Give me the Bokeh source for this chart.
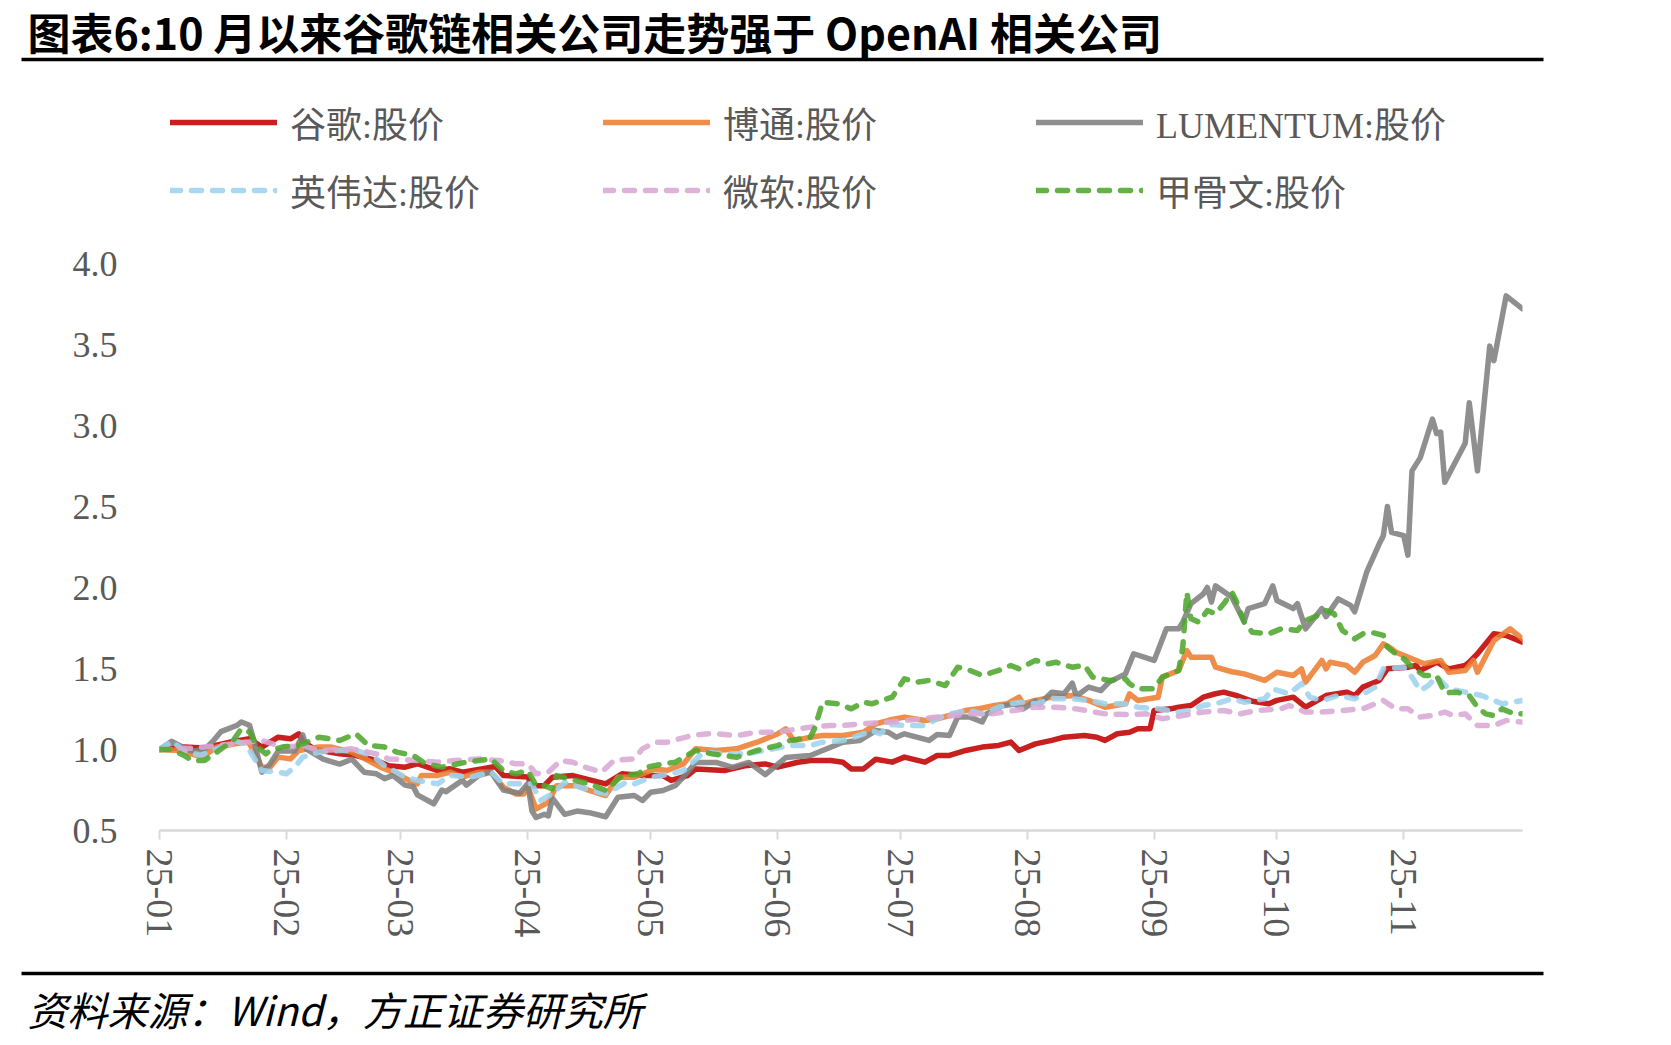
import pandas as pd
from bokeh.plotting import figure
from bokeh.models import (ColumnDataSource, Range1d, FixedTicker, DatetimeTickFormatter,
                          PrintfTickFormatter, Legend, LegendItem)
from bokeh.layouts import column
from bokeh.core.properties import value
from bokeh.embed import file_html
from bokeh.resources import INLINE

YEAR = "2025"
TITLE = "图表6:10 月以来谷歌链相关公司走势强于 OpenAI 相关公司"
SOURCE = "资料来源：Wind，方正证券研究所"

month_ticks = ["01-01", "02-01", "03-01", "04-01", "05-01", "06-01",
               "07-01", "08-01", "09-01", "10-01", "11-01"]
y_ticks = [0.5, 1.0, 1.5, 2.0, 2.5, 3.0, 3.5, 4.0]

names = ["谷歌:股价", "博通:股价", "LUMENTUM:股价", "英伟达:股价", "微软:股价", "甲骨文:股价"]

goog = [("01-01",1.00),("01-07",1.015),("01-12",1.01),("01-19",1.05),("01-23",1.066),("01-26",1.015),
        ("01-30",1.076),("02-02",1.066),("02-04",1.097),("02-05",1.05),("02-08",1.00),("02-14",0.973),
        ("02-18",0.963),("02-23",0.932),("02-26",0.90),("03-02",0.891),("03-05",0.912),("03-10",0.87),
        ("03-13",0.881),("03-16",0.86),("03-21",0.881),("03-24",0.895),("03-26",0.84),("04-01",0.83),
        ("04-02",0.777),("04-05",0.777),("04-07",0.829),("04-12",0.839),("04-20",0.788),("04-24",0.85),
        ("04-29",0.839),("05-04",0.839),("05-06",0.809),("05-10",0.839),("05-12",0.88),("05-19",0.87),
        ("05-24",0.90),("05-29",0.911),("06-01",0.891),("06-06",0.921),("06-09",0.932),("06-14",0.932),
        ("06-17",0.921),("06-19",0.88),("06-22",0.88),("06-25",0.94),("06-29",0.922),("07-02",0.953),
        ("07-07",0.922),("07-10",0.963),("07-13",0.963),("07-17",0.994),("07-21",1.015),("07-25",1.025),
        ("07-28",1.046),("07-30",0.994),("08-03",1.035),("08-07",1.056),("08-10",1.076),("08-15",1.087),
        ("08-18",1.076),("08-20",1.056),("08-23",1.097),("08-26",1.107),("08-28",1.128),("08-31",1.128),
        ("09-01",1.241),("09-05",1.251),("09-07",1.261),("09-10",1.272),("09-13",1.323),("09-16",1.344),
        ("09-18",1.354),("09-21",1.334),("09-25",1.298),("09-29",1.282),("10-01",1.303),("10-05",1.323),
        ("10-08",1.261),("10-13",1.333),("10-18",1.354),("10-20",1.333),("10-22",1.385),("10-26",1.426),
        ("10-28",1.498),("11-02",1.508),("11-04",1.519),("11-05",1.488),("11-09",1.539),("11-12",1.498),
        ("11-16",1.519),("11-17",1.539),("11-19",1.591),("11-23",1.714),("11-26",1.704),("11-30",1.663)]

avgo = [("01-01",1.00),("01-06",0.994),("01-10",0.963),("01-12",0.963),("01-15",1.015),("01-22",1.046),
        ("01-23",1.035),("01-26",0.891),("01-28",0.891),("01-30",0.953),("02-02",0.942),("02-04",0.994),
        ("02-09",1.015),("02-12",1.015),("02-17",0.984),("02-21",0.932),("02-24",0.891),("02-28",0.85),
        ("03-03",0.809),("03-05",0.788),("03-06",0.84),("03-10",0.84),("03-13",0.86),("03-16",0.83),
        ("03-20",0.86),("03-23",0.86),("03-26",0.768),("03-29",0.726),("03-31",0.726),("04-01",0.767),
        ("04-03",0.633),("04-06",0.674),("04-08",0.777),("04-13",0.777),("04-16",0.747),("04-20",0.716),
        ("04-23",0.829),("04-27",0.829),("05-02",0.88),("05-05",0.87),("05-09",0.911),("05-12",1.004),
        ("05-17",0.994),("05-22",1.004),("05-27",1.045),("06-01",1.096),("06-03",1.127),("06-05",1.055),
        ("06-09",1.076),("06-12",1.086),("06-17",1.086),("06-22",1.107),("06-25",1.158),("06-29",1.185),
        ("07-02",1.20),("07-07",1.179),("07-10",1.19),("07-13",1.21),("07-17",1.241),("07-20",1.251),
        ("07-22",1.261),("07-24",1.272),("07-27",1.282),("07-30",1.323),("07-31",1.282),("08-03",1.303),
        ("08-07",1.323),("08-12",1.334),("08-16",1.303),("08-20",1.261),("08-25",1.282),("08-26",1.344),
        ("08-28",1.303),("09-02",1.323),("09-03",1.447),("09-07",1.488),("09-09",1.611),("09-10",1.57),
        ("09-13",1.57),("09-15",1.57),("09-16",1.508),("09-20",1.48),("09-23",1.467),("09-28",1.426),
        ("10-01",1.477),("10-05",1.457),("10-07",1.498),("10-08",1.416),("10-12",1.55),("10-13",1.498),
        ("10-14",1.539),("10-18",1.519),("10-20",1.477),("10-22",1.539),("10-25",1.58),("10-27",1.652),
        ("10-29",1.622),("10-30",1.601),("11-03",1.56),("11-06",1.529),("11-10",1.55),("11-12",1.477),
        ("11-16",1.488),("11-18",1.55),("11-19",1.477),("11-23",1.673),("11-27",1.745),("11-30",1.683)]

lite = [("01-01",1.00),("01-04",1.05),("01-07",1.01),("01-09",0.99),("01-12",1.00),("01-14",1.05),
        ("01-16",1.11),("01-20",1.15),("01-21",1.17),("01-23",1.15),("01-24",1.06),("01-26",0.86),
        ("01-28",0.91),("01-30",0.99),("02-03",0.99),("02-05",1.09),("02-06",1.00),("02-10",0.94),
        ("02-14",0.91),("02-17",0.94),("02-20",0.86),("02-23",0.85),("02-25",0.82),("02-27",0.84),
        ("03-02",0.78),("03-04",0.77),("03-05",0.72),("03-09",0.665),("03-11",0.75),("03-12",0.74),
        ("03-16",0.81),("03-17",0.78),("03-20",0.84),("03-23",0.86),("03-26",0.75),("03-30",0.73),
        ("04-01",0.79),("04-02",0.62),("04-03",0.58),("04-05",0.60),("04-06",0.59),("04-07",0.70),
        ("04-10",0.60),("04-13",0.62),("04-16",0.61),("04-20",0.585),("04-23",0.705),("04-27",0.716),
        ("04-29",0.685),("05-01",0.736),("05-04",0.747),("05-07",0.777),("05-09",0.83),("05-12",0.92),
        ("05-17",0.92),("05-21",0.89),("05-25",0.92),("05-29",0.845),("06-03",0.95),("06-09",0.963),
        ("06-12",0.994),("06-17",1.045),("06-21",1.055),("06-25",1.117),("06-28",1.107),("06-30",1.076),
        ("07-02",1.097),("07-08",1.056),("07-10",1.093),("07-13",1.087),("07-15",1.20),("07-18",1.20),
        ("07-21",1.17),("07-22",1.22),("07-26",1.27),("07-29",1.28),("07-31",1.25),("08-03",1.30),
        ("08-04",1.28),("08-07",1.354),("08-10",1.344),("08-12",1.41),("08-13",1.33),("08-16",1.385),
        ("08-19",1.364),("08-21",1.416),("08-25",1.467),("08-27",1.591),("09-01",1.55),("09-04",1.745),
        ("09-07",1.745),("09-08",1.786),("09-10",1.90),("09-13",1.96),("09-14",2.00),("09-15",1.91),
        ("09-16",2.01),("09-20",1.94),("09-23",1.79),("09-24",1.87),("09-28",1.90),("09-30",2.01),
        ("10-01",1.92),("10-05",1.87),("10-06",1.90),("10-08",1.745),("10-12",1.87),("10-13",1.82),
        ("10-16",1.93),("10-19",1.89),("10-20",1.85),("10-23",2.10),("10-26",2.27),("10-27",2.32),
        ("10-28",2.50),("10-29",2.34),("11-01",2.32),("11-02",2.20),("11-03",2.72),("11-05",2.80),
        ("11-08",3.04),("11-09",2.95),("11-10",2.96),("11-11",2.65),("11-16",2.89),("11-17",3.14),
        ("11-19",2.72),("11-22",3.49),("11-23",3.40),("11-26",3.80),("11-30",3.72)]

nvda = [("01-01",1.00),("01-04",1.05),("01-07",0.994),("01-11",0.963),("01-15",1.004),("01-19",1.056),
        ("01-22",1.035),("01-26",0.87),("01-30",0.86),("02-01",0.85),("02-03",0.891),("02-05",0.953),
        ("02-09",0.984),("02-14",0.994),("02-18",0.994),("02-22",0.963),("02-25",0.90),("03-02",0.83),
        ("03-05",0.809),("03-10",0.788),("03-13",0.84),("03-18",0.83),("03-23",0.86),("03-26",0.788),
        ("03-29",0.788),("04-02",0.788),("04-04",0.685),("04-07",0.726),("04-10",0.798),("04-15",0.757),
        ("04-20",0.726),("04-25",0.798),("04-27",0.788),("05-01",0.829),("05-06",0.85),("05-09",0.87),
        ("05-14",0.984),("05-19",0.973),("05-24",0.973),("05-29",0.994),("06-04",1.024),("06-09",1.024),
        ("06-12",1.045),("06-17",1.055),("06-22",1.096),("06-24",1.117),("06-26",1.097),("06-29",1.155),
        ("07-02",1.148),("07-07",1.148),("07-10",1.19),("07-13",1.22),("07-18",1.241),("07-21",1.22),
        ("07-25",1.261),("07-28",1.282),("07-31",1.293),("08-03",1.282),("08-07",1.313),("08-12",1.313),
        ("08-16",1.303),("08-20",1.282),("08-25",1.282),("08-28",1.261),("09-02",1.251),("09-07",1.231),
        ("09-10",1.241),("09-13",1.272),("09-16",1.282),("09-20",1.313),("09-23",1.292),("09-28",1.313),
        ("09-30",1.374),("10-04",1.344),("10-07",1.406),("10-09",1.323),("10-12",1.303),("10-16",1.333),
        ("10-20",1.313),("10-25",1.385),("10-27",1.498),("11-01",1.508),("11-03",1.447),("11-05",1.364),
        ("11-07",1.395),("11-09",1.45),("11-12",1.374),("11-16",1.354),("11-20",1.333),("11-23",1.303),
        ("11-25",1.282),("11-30",1.303)]

msft = [("01-01",1.00),("01-10",1.01),("01-19",1.035),("01-26",1.056),("01-31",1.015),("02-05",1.025),
        ("02-09",0.994),("02-17",1.004),("02-23",0.973),("02-26",0.942),("03-05",0.932),("03-10",0.922),
        ("03-14",0.932),("03-20",0.942),("03-25",0.932),("03-29",0.912),("04-01",0.911),("04-03",0.85),
        ("04-06",0.86),("04-09",0.932),("04-12",0.921),("04-15",0.891),("04-19",0.86),("04-22",0.932),
        ("04-27",0.942),("04-29",1.004),("05-02",1.045),("05-05",1.045),("05-11",1.086),("05-16",1.10),
        ("05-22",1.086),("05-27",1.107),("06-01",1.107),("06-06",1.127),("06-09",1.138),("06-14",1.148),
        ("06-17",1.148),("06-22",1.16),("06-29",1.17),("07-02",1.179),("07-10",1.20),("07-18",1.22),
        ("07-23",1.22),("07-26",1.23),("08-03",1.261),("08-08",1.261),("08-13",1.251),("08-20",1.22),
        ("08-25",1.216),("08-30",1.22),("09-03",1.19),("09-08",1.21),("09-13",1.231),("09-18",1.241),
        ("09-22",1.22),("09-26",1.241),("10-02",1.251),("10-04",1.272),("10-08",1.231),("10-12",1.231),
        ("10-17",1.241),("10-22",1.251),("10-27",1.303),("10-30",1.251),("11-02",1.251),("11-05",1.20),
        ("11-08",1.21),("11-11",1.231),("11-13",1.21),("11-16",1.22),("11-19",1.148),("11-23",1.148),
        ("11-26",1.179),("11-30",1.169)]

orcl = [("01-01",1.00),("01-04",1.00),("01-07",0.963),("01-09",0.932),("01-12",0.932),("01-15",0.984),
        ("01-19",1.056),("01-21",1.128),("01-23",1.107),("01-25",1.015),("01-27",0.973),("01-28",0.994),
        ("01-31",1.015),("02-04",1.025),("02-09",1.076),("02-14",1.056),("02-18",1.097),("02-21",1.025),
        ("02-25",1.015),("02-28",0.984),("03-04",0.963),("03-07",0.912),("03-11",0.891),("03-15",0.912),
        ("03-17",0.922),("03-23",0.942),("03-26",0.87),("03-29",0.85),("04-01",0.87),("04-03",0.777),
        ("04-05",0.777),("04-07",0.757),("04-08",0.839),("04-11",0.819),("04-16",0.788),("04-20",0.747),
        ("04-24",0.839),("04-28",0.85),("04-30",0.891),("05-04",0.911),("05-07",0.921),("05-12",0.994),
        ("05-16",0.973),("05-19",0.963),("05-22",0.952),("05-27",0.994),("06-01",1.024),("06-04",1.055),
        ("06-09",1.076),("06-10",1.127),("06-12",1.292),("06-16",1.281),("06-19",1.251),("06-22",1.292),
        ("06-24",1.282),("06-29",1.323),("07-02",1.436),("07-05",1.416),("07-08",1.426),("07-12",1.395),
        ("07-15",1.508),("07-18",1.488),("07-21",1.457),("07-25",1.488),("07-28",1.519),("07-30",1.498),
        ("08-03",1.55),("08-06",1.529),("08-08",1.539),("08-12",1.508),("08-15",1.519),("08-17",1.447),
        ("08-21",1.426),("08-25",1.436),("08-26",1.406),("08-28",1.375),("09-01",1.375),("09-03",1.447),
        ("09-07",1.488),("09-08",1.632),("09-09",1.971),("09-10",1.807),("09-12",1.786),("09-14",1.858),
        ("09-16",1.838),("09-18",1.899),("09-20",1.971),("09-21",1.92),("09-23",1.786),("09-25",1.724),
        ("09-29",1.714),("10-02",1.745),("10-06",1.735),("10-08",1.796),("10-12",1.837),("10-13",1.858),
        ("10-15",1.837),("10-17",1.735),("10-20",1.683),("10-22",1.714),("10-24",1.724),("10-27",1.704),
        ("10-28",1.632),("10-30",1.591),("11-01",1.56),("11-03",1.508),("11-06",1.457),("11-09",1.457),
        ("11-11",1.35),("11-14",1.354),("11-17",1.333),("11-19",1.261),("11-21",1.22),("11-23",1.21),
        ("11-25",1.251),("11-28",1.22),("11-30",1.22)]

series = [goog, avgo, lite, nvda, msft, orcl]
colors = ["#C00000", "#ED7D31", "#808080", "#9DD3EE", "#D9A8D5", "#4EA72E"]
dashes = ["solid", "solid", "solid", "10 11", "10 11", "10 11"]

SERIF = "Liberation Serif, Noto Sans CJK SC"
CJK = "Noto Sans CJK SC"
TXT = "#595959"
W = 1671
HEAD_H, MAIN_H, FOOT_H = 232, 735, 78
LINE_STYLE = dict(line_width=5.5, line_cap="round", line_join="round", line_alpha=0.88)


def to_dt(mmdd):
    return pd.to_datetime([f"{YEAR}-{d}" for d in mmdd])


def no_align(f):
    if "frame_align" in f.properties():
        f.frame_align = False
    return f


def blank(h):
    f = figure(width=W, height=h, x_range=Range1d(0, W), y_range=Range1d(h, 0),
               toolbar_location=None, output_backend="svg", min_border=0,
               x_axis_location=None, y_axis_location=None)
    f.outline_line_color = None
    f.xgrid.visible = False
    f.ygrid.visible = False
    return no_align(f)


# ---- header: title, rule and legend ----
header = blank(HEAD_H)
header.text(x=[27], y=[30], text=[TITLE], text_font=value(CJK), text_font_style="bold",
            text_font_size="43px", text_color="black", text_baseline="middle", text_align="left")
header.segment(x0=[21], y0=[59], x1=[1543], y1=[59], line_color="black", line_width=3.5)

# legend keys: one placeholder renderer (no visible data) per series, styled like the series
nan = float("nan")
items = []
for name, c, d in zip(names, colors, dashes):
    r = header.line(x=[nan], y=[nan], line_color=c, line_dash=d, **LINE_STYLE)
    items.append(LegendItem(label=name, renderers=[r]))
legend = Legend(items=items, ncols=3, orientation="horizontal", location=(170, 16),
                glyph_width=107, glyph_height=50, label_height=50, label_width=297,
                label_standoff=13, spacing=16, padding=0, margin=0,
                border_line_color=None, background_fill_alpha=0,
                label_text_font=SERIF, label_text_font_size="36px", label_text_color=TXT)
header.add_layout(legend, "center")

# ---- main chart ----
p = figure(width=W, height=MAIN_H, x_axis_type="datetime",
           x_range=Range1d(pd.Timestamp(f"{YEAR}-01-01"), pd.Timestamp(f"{YEAR}-11-30")),
           y_range=Range1d(0.5, 4.0), toolbar_location=None, output_backend="svg",
           min_border_left=159, min_border_right=149, min_border_top=31, min_border_bottom=137)
no_align(p)
p.outline_line_color = None
p.xgrid.visible = False
p.ygrid.visible = False

for data, c, d in zip(series, colors, dashes):
    dts, vals = zip(*data)
    src = ColumnDataSource(dict(x=to_dt(dts), y=list(vals)))
    p.line("x", "y", source=src, line_color=c, line_dash=d, **LINE_STYLE)

epoch = pd.Timestamp("1970-01-01")
tick_ms = [float((t - epoch) // pd.Timedelta(milliseconds=1)) for t in to_dt(month_ticks)]
xa = p.xaxis[0]
xa.ticker = FixedTicker(ticks=tick_ms)
fmt = "%y-%m"
xa.formatter = DatetimeTickFormatter(microseconds=fmt, milliseconds=fmt, seconds=fmt, minsec=fmt,
                                     minutes=fmt, hourmin=fmt, hours=fmt, days=fmt, months=fmt,
                                     years=fmt)
xa.major_label_orientation = "vertical"
xa.axis_line_color = "#D9D9D9"
xa.axis_line_width = 2.5
xa.major_tick_line_color = "#D9D9D9"
xa.major_tick_line_width = 2
xa.major_tick_out = 9
xa.major_tick_in = 0
xa.minor_tick_line_color = None
xa.major_label_standoff = 9
xa.major_label_text_font = "Liberation Serif"
xa.major_label_text_font_size = "38px"
xa.major_label_text_color = TXT

ya = p.yaxis[0]
ya.ticker = FixedTicker(ticks=y_ticks)
ya.formatter = PrintfTickFormatter(format="%.1f")
ya.axis_line_color = None
ya.major_tick_line_color = None
ya.minor_tick_line_color = None
ya.major_tick_out = 0
ya.major_tick_in = 0
ya.major_label_standoff = 42
ya.major_label_text_font = "Liberation Serif"
ya.major_label_text_font_size = "36px"
ya.major_label_text_color = TXT

# ---- footer: rule and source ----
footer = blank(FOOT_H)
footer.segment(x0=[21], y0=[6], x1=[1543], y1=[6], line_color="black", line_width=3.5)
footer.text(x=[27], y=[41], text=[SOURCE], text_font=value(CJK), text_font_style="italic",
            text_font_size="40px", text_color="black", text_baseline="middle", text_align="left")

layout = column(header, p, footer, spacing=0)
open("out.html", "w").write(file_html(layout, INLINE))
